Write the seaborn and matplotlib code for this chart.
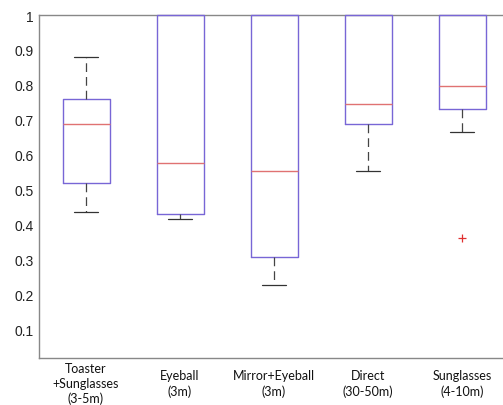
import matplotlib
matplotlib.use("Agg")

import numpy as np
import pandas as pd
import matplotlib.pyplot as plt
import seaborn as sns

sns.set_style("white")

# group labels (x axis)
conditions = ["Toaster\n+Sunglasses\n(3-5m)", "Eyeball\n(3m)", "Mirror+Eyeball\n(3m)",
              "Direct\n(30-50m)", "Sunglasses\n(4-10m)"]

# samples: whisker low, q1, median, q3, whisker high (+ outlier)
toaster = [0.436, 0.519, 0.688, 0.760, 0.879]
eyeball = [0.416, 0.430, 0.576, 1.0, 1.0]
mirror = [0.227, 0.306, 0.554, 1.0, 1.0]
direct = [0.554, 0.688, 0.744, 1.0, 1.0]
sunglasses = [0.362, 0.665, 0.730, 0.750, 0.797, 0.900, 1.0, 1.0, 1.0]

y_ticks = [0.1, 0.2, 0.3, 0.4, 0.5, 0.6, 0.7, 0.8, 0.9, 1.0]
y_ticklabels = ["0.1", "0.2", "0.3", "0.4", "0.5", "0.6", "0.7", "0.8", "0.9", "1"]

rows = []
for cond, vals in zip(conditions, [toaster, eyeball, mirror, direct, sunglasses]):
    for v in vals:
        rows.append({"condition": cond, "score": v})
df = pd.DataFrame(rows)

box_col = "#7866d6"
med_col = "#e07272"
cap_col = "#333333"
axis_col = "#888888"

fig = plt.figure(figsize=(5.03, 4.06), dpi=100)
ax = fig.add_axes([39 / 503, 47 / 406, 470 / 503, 343 / 406])

sns.boxplot(data=df, x="condition", y="score", order=conditions, ax=ax,
            fill=False, width=0.5, whis=1.0, color=box_col, linewidth=1.0,
            boxprops=dict(color=box_col, linewidth=1.0),
            medianprops=dict(color=med_col, linewidth=1.0),
            whiskerprops=dict(color="#444444", linestyle=(0, (7, 4)), linewidth=0.9),
            capprops=dict(color=cap_col, linewidth=0.9),
            flierprops=dict(marker="+", markeredgecolor="#e03030", markersize=6,
                            markeredgewidth=0.9))

# boxes reaching 1 sit on the top frame: draw them over it, and drop the
# flat caps/whiskers hidden under the box top there
for ln in ax.lines:
    ln.set_clip_on(False)
    ln.set_zorder(4)
    y = np.asarray(ln.get_ydata(), dtype=float)
    if y.size == 2 and np.allclose(y, 1.0):
        ln.set_visible(False)

ax.set_xlim(-0.5, 4.5)
ax.set_ylim(0.017, 1.0)
ax.set_yticks(y_ticks)
ax.set_yticklabels(y_ticklabels, fontsize=10, family=["Liberation Sans", "DejaVu Sans"])
ax.set_xticks(range(len(conditions)))
ax.set_xticklabels(conditions, fontsize=9, family=["Lato", "DejaVu Sans"],
                   linespacing=1.3, color="#111111", va="center")
ax.set_xlabel("")
ax.set_ylabel("")
ax.tick_params(axis="y", direction="out", length=3, color=axis_col, pad=1, labelcolor="#222222")
ax.tick_params(axis="x", length=0, pad=18)

for side in ["left", "bottom", "top", "right"]:
    ax.spines[side].set_visible(True)
    ax.spines[side].set_color(axis_col)
    ax.spines[side].set_linewidth(1.0)
    ax.spines[side].set_zorder(1)

plt.savefig("out.png", dpi=100)
plt.close()
print("Saved: out.png")
